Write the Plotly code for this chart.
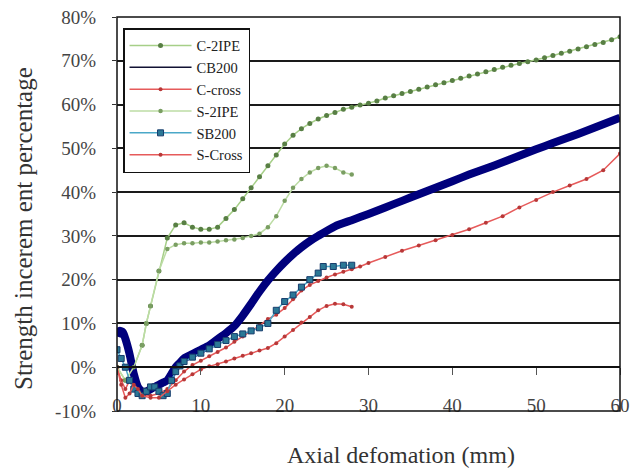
import plotly.graph_objects as go

# ---- data (axial deformation in mm, strength increment in %) ----
c2ipe_x = [0, 1, 2, 3, 3.5, 4, 5, 6, 7, 8, 9, 10, 11, 12, 13, 14, 15, 16, 17, 18, 19, 20,
           21, 22, 23, 24, 25, 26, 27, 28, 29, 30, 31, 32, 33, 34, 35, 36, 37, 38, 39, 40,
           41, 42, 43, 44, 45, 46, 47, 48, 49, 50, 51, 52, 53, 54, 55, 56, 57, 58, 59, 60]
c2ipe_y = [0, -3, 0, 5, 10, 14, 22, 29.5, 32.5, 33, 32, 31.5, 31.5, 32, 34, 36, 38.5, 41, 43.5, 46, 48.5, 51,
           53, 54.5, 55.7, 56.7, 57.5, 58.2, 58.9, 59.4, 59.9, 60.3, 60.8, 61.5, 62, 62.5, 63, 63.5, 64, 64.5, 65, 65.5,
           66, 66.5, 67, 67.5, 68, 68.5, 69, 69.4, 69.8, 70.2, 70.7, 71.2, 71.7, 72.2, 72.7, 73.2, 73.7, 74.2, 74.8, 75.5]

cb200_x = [0, 0.3, 0.7, 1, 1.5, 2, 2.5, 3, 3.5, 4, 4.5, 5, 5.5, 6, 6.5, 7, 7.5, 8, 9, 10, 11, 12, 13, 14,
           15, 16, 17, 18, 19, 20, 21, 22, 23, 24, 26, 28, 30, 32, 34, 36, 38, 40, 42, 44, 46, 48, 50,
           52, 54, 56, 58, 60]
cb200_y = [7, 8.3, 8, 6.5, 3, -1.5, -4.5, -5.5, -5.5, -5, -4.5, -4, -3.5, -3, -1.5, 0, 1, 2, 3, 4, 5, 6.4, 7.8, 9.4,
           11.8, 14.5, 17.3, 19.8, 22, 24, 25.8, 27.4, 28.8, 30, 32.2, 33.6, 35, 36.5, 38, 39.5, 41, 42.5, 44, 45.4, 46.8, 48.3, 49.8,
           51.2, 52.6, 54, 55.5, 57]

ccross_x = [0, 0.5, 1, 1.5, 2, 3, 4, 5, 6, 7, 8, 9, 10, 11, 12, 13, 14, 15, 16, 17, 18, 19, 20, 21, 22,
            23, 24, 25, 26, 27, 28, 29, 30, 32, 34, 36, 38, 40, 42, 44, 46, 48, 50, 52, 54, 56, 58, 60]
ccross_y = [0, -3, -5, -3, -5, -6.5, -6.5, -6, -5, -3, -1, 0.5, 1.5, 2.5, 3.5, 4.5, 5.8, 7, 8.2, 9.5, 11, 12, 13.5, 15.5, 17.5,
            18.8, 19.7, 20.5, 21.2, 21.8, 22.4, 23, 23.8, 25.2, 26.6, 27.8, 29, 30.2, 31.5, 33, 34.5, 36.5, 38.2, 40, 41.5, 43, 45, 48.8]

s2ipe_x = [0, 1, 2, 3, 3.5, 4, 5, 6, 7, 8, 9, 10, 11, 12, 13, 14, 15, 16, 17, 18, 19, 20,
           21, 22, 23, 24, 25, 26, 27, 28]
s2ipe_y = [0, -3, 0, 5, 10, 14, 22, 27, 28, 28.3, 28.3, 28.5, 28.5, 28.7, 29, 29.2, 29.5, 30, 30.5, 32, 34.5, 38,
           41, 43, 44.5, 45.5, 46, 45.5, 44.5, 44]

sb200_x = [0, 0.5, 1, 1.5, 2, 2.5, 3, 3.5, 4, 4.5, 5, 5.5, 6, 6.5, 7, 7.5, 8, 9, 10, 11, 12, 13, 14,
           15, 16, 17, 18, 19, 20, 21, 22, 23, 24, 24.6, 25.8, 27, 28]
sb200_y = [4, 2, 0, -3, -5, -6, -6.5, -5.5, -4.5, -4.5, -5.5, -6.5, -6, -3, -1, 0.3, 1.3, 2.3, 3.2, 4.2, 5.2, 6.1, 7,
           7.6, 8.3, 9, 10, 13, 15, 16.5, 18.3, 20, 21.5, 23, 23, 23.3, 23.3]

scross_x = [0, 0.5, 1, 1.5, 2, 2.5, 3, 4, 5, 6, 7, 8, 9, 10, 11, 12, 13, 14, 15, 16, 17, 18, 19, 20,
            21, 22, 23, 24, 25, 26, 27, 28]
scross_y = [0, -4, -7, -6, -4, -5, -6.5, -7, -7, -5.5, -4, -2.8, -1.6, -0.5, 0.2, 0.7, 1.3, 2, 2.6, 3.2, 3.8, 4.4, 5.5, 7,
            8.5, 10.2, 11.5, 13, 14, 14.5, 14.4, 13.8]

x_ticks = [0, 10, 20, 30, 40, 50, 60]
y_ticks = [-10, 0, 10, 20, 30, 40, 50, 60, 70, 80]

FONT = "Liberation Serif"

fig = go.Figure()

fig.add_trace(go.Scatter(x=c2ipe_x, y=c2ipe_y, name="C-2IPE", mode="lines+markers", legendrank=1,
                         line=dict(color="#a6cf88", width=1.5),
                         marker=dict(color="#587f44", size=5, symbol="circle")))
# thick CB200 curve (legend entry drawn by the thin proxy below)
fig.add_trace(go.Scatter(x=cb200_x, y=cb200_y, name="CB200", mode="lines", legendgroup="cb200",
                         showlegend=False, line=dict(color="#00007c", width=8, shape="spline", smoothing=0.6)))
fig.add_trace(go.Scatter(x=[None], y=[None], name="CB200", mode="lines", legendgroup="cb200",
                         legendrank=2, line=dict(color="#111133", width=1.5)))
fig.add_trace(go.Scatter(x=ccross_x, y=ccross_y, name="C-cross", mode="lines+markers", legendrank=3,
                         line=dict(color="#e65a5a", width=1.5),
                         marker=dict(color="#b83838", size=4, symbol="circle")))
fig.add_trace(go.Scatter(x=s2ipe_x, y=s2ipe_y, name="S-2IPE", mode="lines+markers", legendrank=4,
                         line=dict(color="#bcdca4", width=1.5),
                         marker=dict(color="#7a9e62", size=4.5, symbol="circle")))
fig.add_trace(go.Scatter(x=sb200_x, y=sb200_y, name="SB200", mode="lines+markers", legendrank=5,
                         line=dict(color="#4aa8c8", width=1.5),
                         marker=dict(color="#2b7896", size=6, symbol="square",
                                     line=dict(color="#173c6c", width=1))))
fig.add_trace(go.Scatter(x=scross_x, y=scross_y, name="S-Cross", mode="lines+markers", legendrank=6,
                         line=dict(color="#e65a5a", width=1.5),
                         marker=dict(color="#b83838", size=4, symbol="circle")))

fig.update_layout(
    width=638, height=472,
    margin=dict(l=117, r=18, t=17, b=61, autoexpand=False),
    paper_bgcolor="white", plot_bgcolor="white",
    font=dict(family=FONT, color="#333333"),
    showlegend=True,
    legend=dict(x=0.012, y=0.972, xanchor="left", yanchor="top",
                bgcolor="white", bordercolor="#111111", borderwidth=1.5,
                font=dict(family=FONT, size=14.5, color="#222222"),
                itemwidth=62, tracegroupgap=0, traceorder="normal"),
    xaxis=dict(range=[0, 60], tickvals=x_ticks, ticktext=[str(v) for v in x_ticks],
               anchor="free", position=10 / 90, showgrid=False, zeroline=False,
               showline=True, linecolor="#111111", linewidth=1.5,
               ticks="outside", ticklen=7, tickcolor="#555555", tickwidth=1,
               ticklabelstandoff=14,
               tickfont=dict(family=FONT, size=19, color="#444444")),
    yaxis=dict(range=[-10, 80], tickvals=y_ticks, ticktext=[f"{v}%" for v in y_ticks],
               showgrid=True, gridcolor="#1a1a1a", gridwidth=1.5, zeroline=False,
               showline=False, ticks="outside", ticklen=4, tickcolor="#333333",
               ticklabelstandoff=12,
               tickfont=dict(family=FONT, size=19, color="#444444")),
    shapes=[dict(type="rect", xref="paper", yref="paper", x0=0, x1=1, y0=0, y1=1,
                 line=dict(color="#111111", width=1.5), layer="above")],
    annotations=[
        dict(text="Axial defomation (mm)", xref="paper", yref="paper",
             x=(401 - 117) / 503, y=(411 - 455) / 394, xanchor="center", yanchor="middle",
             showarrow=False, font=dict(family=FONT, size=24, color="#333333")),
        dict(text="Strength incerem ent percentage", xref="paper", yref="paper",
             x=(23 - 117) / 503, y=(411 - 229) / 394, xanchor="center", yanchor="middle",
             textangle=-90, showarrow=False, font=dict(family=FONT, size=25, color="#333333")),
    ],
)

fig.write_html("out.html")
